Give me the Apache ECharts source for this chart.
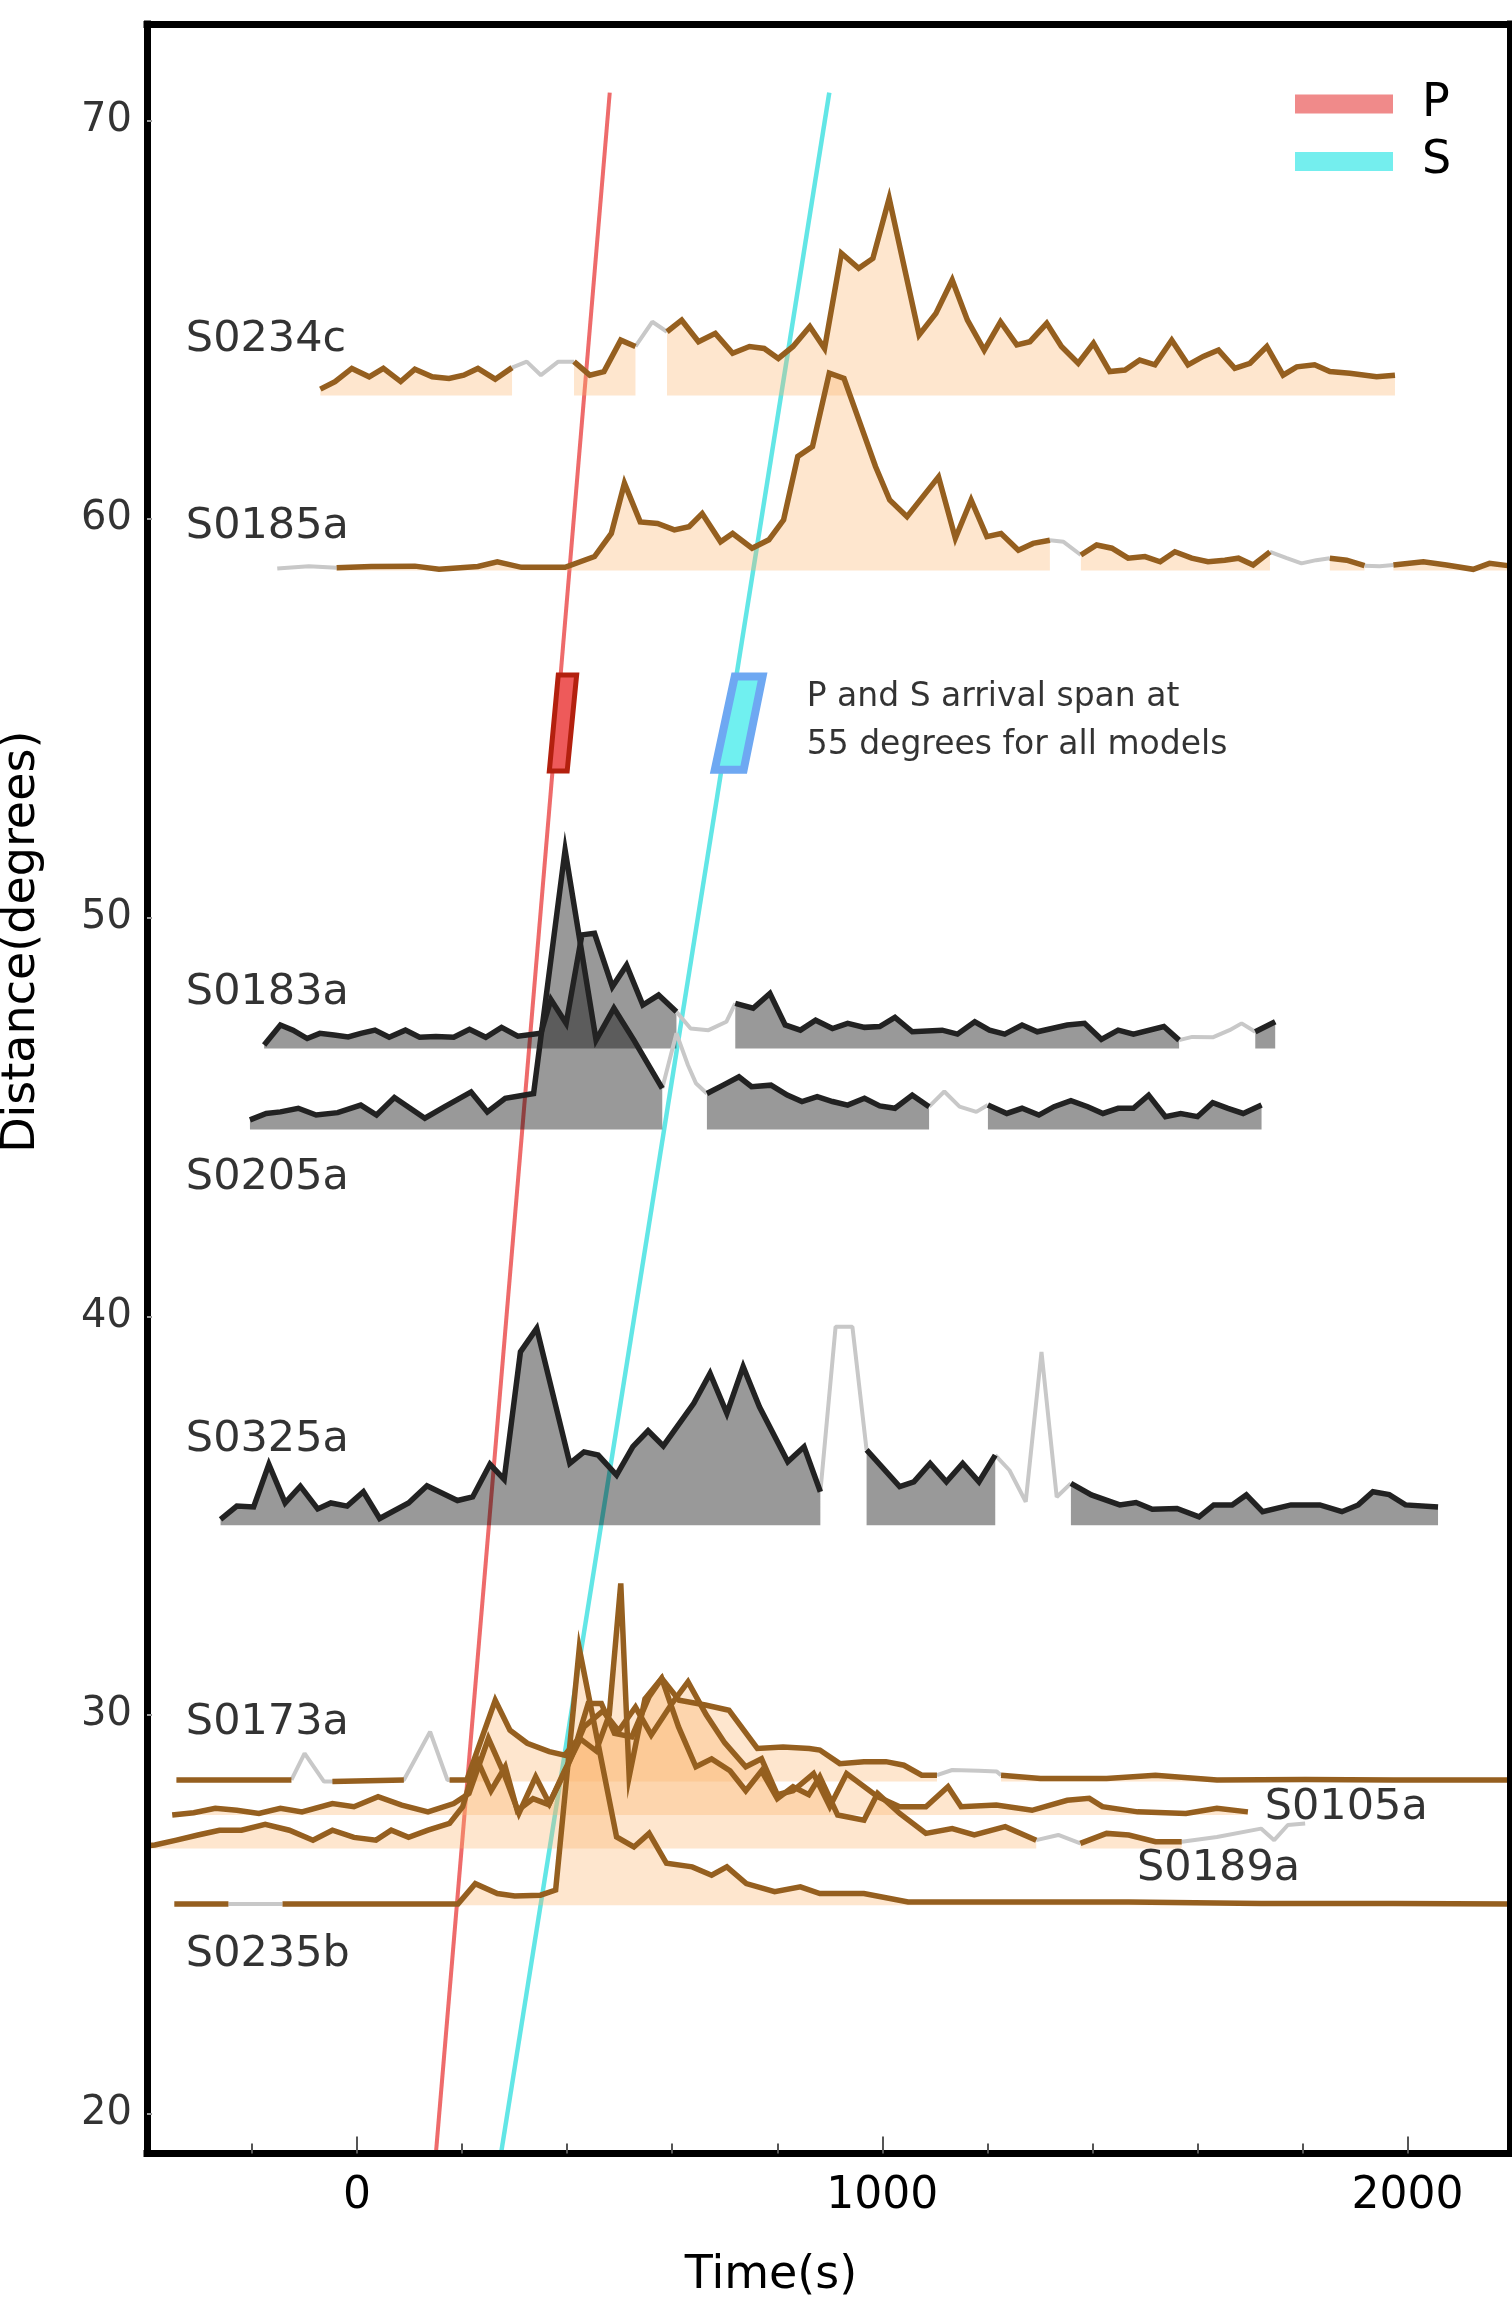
<!DOCTYPE html>
<html><head><meta charset="utf-8">
<script src="https://cdn.jsdelivr.net/npm/echarts@6/dist/echarts.min.js"></script>
<style>html,body{margin:0;padding:0;background:#fff}#c{width:1512px;height:2299px}</style>
</head><body><div id="c"></div>
<script>
// ---------------- axis ticks ----------------
const xMajorTicks = [0, 1000, 2000];
const xMinorTicks = [-200, 200, 400, 600, 800, 1200, 1400, 1600, 1800];
const yTicks = [20, 30, 40, 50, 60, 70];

// ---------------- travel-time lines ----------------
const pLineT = [150, 481], pLineD = [19, 70.7];
const sLineT = [274, 899], sLineD = [19, 70.7];
// arrival span boxes at 55 degrees (corners: time, distance)
const pBoxT = [383, 418, 400, 366], pBoxD = [56.09, 56.09, 53.68, 53.68];
const sBoxT = [719, 772, 736, 681], sBoxD = [56.05, 56.05, 53.71, 53.71];

// ---------------- traces (time s, distance deg, glitch flag) ----------------
const s0234cBase = 63.1;
const s0234cT = [-70,-42,-10,23,50,83,110,143,175,203,230,263,295,323,350,383,413,443,470,502,530,562,590,618,650,682,715,747,775,802,830,862,890,922,955,982,1013,1070,1102,1133,1162,1194,1225,1256,1281,1313,1341,1373,1402,1433,1462,1490,1519,1551,1582,1611,1640,1671,1700,1732,1763,1789,1823,1852,1890,1941,1976];
const s0234cD = [63.26,63.45,63.78,63.57,63.78,63.45,63.76,63.57,63.53,63.61,63.78,63.51,63.80,63.95,63.61,63.95,63.95,63.61,63.70,64.49,64.33,64.95,64.70,64.99,64.45,64.66,64.16,64.33,64.28,64.03,64.33,64.83,64.28,66.67,66.29,66.54,68.05,64.62,65.16,66.00,64.99,64.24,64.95,64.37,64.45,64.91,64.33,63.91,64.41,63.70,63.74,63.99,63.87,64.49,63.87,64.08,64.24,63.78,63.91,64.33,63.61,63.82,63.87,63.70,63.66,63.57,63.61];
const s0234cG = [0,0,0,0,0,0,0,0,0,0,0,0,0,1,1,1,0,0,0,0,0,1,0,0,0,0,0,0,0,0,0,0,0,0,0,0,0,0,0,0,0,0,0,0,0,0,0,0,0,0,0,0,0,0,0,0,0,0,0,0,0,0,0,0,0,0,0];

const s0185aBase = 58.71;
const s0185aT = [-152,-92,-39,27,110,156,230,267,313,360,396,452,484,509,539,572,604,632,657,692,715,752,784,812,839,867,899,927,987,1014,1047,1107,1139,1169,1199,1226,1259,1287,1319,1345,1378,1408,1437,1468,1500,1529,1557,1589,1620,1652,1678,1706,1738,1770,1798,1826,1852,1884,1918,1947,1973,2030,2074,2125,2156,2198];
const s0185aD = [58.76,58.82,58.78,58.81,58.82,58.74,58.81,58.93,58.79,58.79,58.79,59.06,59.64,60.90,59.93,59.89,59.73,59.81,60.14,59.43,59.64,59.27,59.48,59.98,61.57,61.82,63.66,63.53,61.32,60.48,60.06,61.06,59.52,60.48,59.56,59.64,59.22,59.39,59.47,59.43,59.10,59.35,59.27,59.02,59.06,58.93,59.18,59.02,58.93,58.97,59.02,58.85,59.18,59.02,58.89,58.97,59.02,58.97,58.83,58.82,58.85,58.93,58.85,58.74,58.89,58.82];
const s0185aG = [1,1,0,0,0,0,0,0,0,0,0,0,0,0,0,0,0,0,0,0,0,0,0,0,0,0,0,0,0,0,0,0,0,0,0,0,0,0,0,1,0,0,0,0,0,0,0,0,0,0,0,0,0,1,1,1,0,0,0,1,0,0,0,0,0,0];

const s0183aBase = 46.72;
const s0183aT = [-177,-146,-122,-95,-71,-44,-17,7,34,61,92,119,150,184,214,245,275,306,350,369,398,428,452,486,513,544,574,608,635,669,703,720,754,786,815,844,873,905,934,966,995,1024,1057,1114,1143,1176,1204,1233,1266,1295,1352,1385,1417,1449,1478,1536,1565,1590,1629,1661,1684,1710,1748];
const s0183aD = [46.81,47.31,47.18,46.97,47.10,47.06,47.01,47.10,47.18,47.00,47.18,47.00,47.02,47.00,47.20,47.00,47.25,47.03,47.10,47.95,47.35,49.57,49.61,48.27,48.81,47.81,48.06,47.64,47.22,47.18,47.39,47.85,47.73,48.10,47.31,47.18,47.43,47.22,47.35,47.25,47.27,47.50,47.14,47.18,47.08,47.39,47.18,47.08,47.31,47.14,47.31,47.35,46.95,47.18,47.08,47.27,46.93,47.01,47.00,47.18,47.35,47.14,47.39];
const s0183aG = [0,0,0,0,0,0,0,0,0,0,0,0,0,0,0,0,0,0,0,0,0,0,0,0,0,0,0,0,1,1,1,0,0,0,0,0,0,0,0,0,0,0,0,0,0,0,0,0,0,0,0,0,0,0,0,0,0,1,1,1,1,0,0];

const s0205aBase = 44.69;
const s0205aT = [-204,-173,-146,-112,-78,-37,7,37,71,129,167,217,248,282,336,396,455,489,527,581,608,630,645,666,697,727,751,788,819,847,876,905,934,966,995,1024,1057,1089,1118,1147,1179,1201,1237,1266,1298,1327,1359,1391,1420,1449,1478,1507,1539,1568,1600,1629,1658,1687,1722];
const s0205aD = [44.93,45.09,45.13,45.22,45.05,45.11,45.30,45.05,45.49,44.97,45.26,45.63,45.13,45.47,45.59,51.70,46.93,47.73,46.93,45.72,47.10,46.30,45.85,45.59,45.80,46.01,45.76,45.80,45.55,45.39,45.51,45.39,45.30,45.47,45.28,45.22,45.55,45.26,45.64,45.26,45.13,45.30,45.09,45.22,45.05,45.26,45.41,45.26,45.09,45.22,45.22,45.55,45.01,45.09,45.01,45.36,45.22,45.09,45.30];
const s0205aG = [0,0,0,0,0,0,0,0,0,0,0,0,0,0,0,0,0,0,0,0,1,1,1,0,0,0,0,0,0,0,0,0,0,0,0,0,0,0,1,1,1,0,0,0,0,0,0,0,0,0,0,0,0,0,0,0,0,0,0];

const s0325aBase = 34.76;
const s0325aT = [-260,-229,-197,-168,-137,-108,-75,-50,-19,12,43,98,133,191,220,253,280,311,342,405,432,459,494,525,554,583,641,672,704,735,766,820,851,882,911,943,970,1033,1060,1091,1122,1153,1184,1215,1242,1273,1303,1332,1359,1398,1452,1483,1514,1561,1603,1631,1666,1693,1724,1778,1833,1875,1906,1934,1965,1996,2058];
const s0325aD = [34.91,35.24,35.22,36.29,35.32,35.74,35.17,35.32,35.24,35.60,34.93,35.32,35.75,35.38,35.47,36.29,35.91,39.11,39.70,36.31,36.60,36.52,36.02,36.73,37.13,36.75,37.82,38.57,37.57,38.74,37.73,36.35,36.73,35.60,39.74,39.74,36.65,35.73,35.85,36.31,35.85,36.31,35.85,36.52,36.14,35.35,39.11,35.47,35.81,35.52,35.27,35.33,35.16,35.18,34.97,35.27,35.27,35.52,35.10,35.27,35.27,35.10,35.27,35.60,35.53,35.27,35.22];
const s0325aG = [0,0,0,0,0,0,0,0,0,0,0,0,0,0,0,0,0,0,0,0,0,0,0,0,0,0,0,0,0,0,0,0,0,0,1,1,0,0,0,0,0,0,0,0,1,1,1,1,0,0,0,0,0,0,0,0,0,0,0,0,0,0,0,0,0,0,0];

const s0173aBase = 28.33;
const s0173aT = [-344,-125,-100,-63,-47,89,139,172,176,209,263,291,324,366,395,419,440,465,490,523,556,580,613,663,708,762,811,861,881,919,965,1007,1041,1075,1104,1133,1184,1218,1226,1301,1427,1520,1637,1805,1973,2198];
const s0173aD = [28.37,28.37,29.04,28.33,28.33,28.37,29.58,28.37,28.37,28.37,30.37,29.62,29.29,29.08,28.99,29.37,30.29,30.29,29.54,29.45,30.46,30.92,30.37,30.25,30.12,29.16,29.20,29.16,29.12,28.78,28.83,28.83,28.74,28.49,28.49,28.62,28.60,28.58,28.49,28.41,28.41,28.49,28.37,28.38,28.37,28.37];
const s0173aG = [0,0,1,1,0,0,1,1,0,0,0,0,0,0,0,0,0,0,0,0,0,0,0,0,0,0,0,0,0,0,0,0,0,0,0,1,1,1,0,0,0,0,0,0,0,0];

const s0105aBase = 27.49;
const s0105aT = [-352,-311,-270,-229,-187,-146,-105,-47,-6,40,85,135,184,213,250,279,308,340,366,400,432,468,498,530,560,600,630,665,700,740,770,800,830,869,900,932,991,1033,1083,1125,1150,1217,1285,1352,1394,1419,1486,1578,1637,1696];
const s0105aD = [27.49,27.55,27.66,27.61,27.53,27.66,27.57,27.78,27.70,27.95,27.74,27.57,27.78,28.03,29.41,28.55,27.53,28.45,27.78,28.70,29.70,30.10,29.60,30.20,29.50,30.30,30.83,30.00,29.30,28.70,28.90,28.00,28.10,28.53,27.70,28.53,27.95,27.70,27.70,28.20,27.70,27.74,27.61,27.86,27.91,27.70,27.57,27.53,27.66,27.57];
const s0105aG = [0,0,0,0,0,0,0,0,0,0,0,0,0,0,0,0,0,0,0,0,0,0,0,0,0,0,0,0,0,0,0,0,0,0,0,0,0,0,0,0,0,0,0,0,0,0,0,0,0,0];

const s0189aBase = 26.65;
const s0189aT = [-400,-385,-344,-303,-262,-220,-175,-129,-84,-47,-6,36,65,98,135,176,201,228,255,282,305,335,365,395,425,455,480,502,518,548,580,612,645,675,710,740,770,800,830,860,881,915,965,991,1033,1083,1133,1175,1234,1293,1335,1377,1427,1469,1520,1570,1637,1721,1746,1772,1805];
const s0189aD = [26.72,26.74,26.86,26.99,27.11,27.11,27.26,27.11,26.86,27.11,26.93,26.86,27.11,26.93,27.11,27.28,27.70,28.90,28.10,28.70,27.60,27.90,27.75,28.60,29.40,29.10,30.00,33.30,28.45,30.40,30.92,29.70,28.70,28.90,28.60,28.10,28.60,27.90,28.20,28.00,28.45,27.49,27.36,28.03,27.53,27.03,27.15,26.99,27.20,26.86,26.99,26.78,27.03,26.99,26.82,26.82,26.94,27.15,26.86,27.24,27.28];
const s0189aG = [0,0,0,0,0,0,0,0,0,0,0,0,0,0,0,0,0,0,0,0,0,0,0,0,0,0,0,0,0,0,0,0,0,0,0,0,0,0,0,0,0,0,0,0,0,0,0,0,0,0,1,0,0,0,0,0,1,1,1,1,1];

const s0235bBase = 25.23;
const s0235bT = [-348,-245,-195,-142,192,225,267,300,349,378,423,494,527,556,589,638,675,704,741,795,844,881,965,1049,1217,1469,1721,1973,2198];
const s0235bD = [25.26,25.26,25.26,25.26,25.26,25.77,25.52,25.46,25.48,25.61,31.67,26.94,26.69,27.03,26.28,26.19,25.98,26.19,25.77,25.57,25.69,25.52,25.52,25.31,25.31,25.31,25.27,25.27,25.26];
const s0235bG = [0,0,1,0,0,0,0,0,0,0,0,0,0,0,0,0,0,0,0,0,0,0,0,0,0,0,0,0,0];

// ---------------- station labels ----------------
const labelText = ['S0234c','S0185a','S0183a','S0205a','S0325a','S0173a','S0235b','S0105a','S0189a'];
const labelT = [-327,-327,-327,-327,-327,-327,-327,1727,1484];
const labelD = [64.49,59.81,48.11,43.48,36.90,29.80,23.98,27.68,26.15];
const noteText = 'P and S arrival span at\n55 degrees for all models';
const noteT = 855, noteD = 54.92;

// ---------------- build chart ----------------
const BROWN = '#955F1F', BLACK = '#222222', GLITCH = '#C8C8C8';
const PEACH = 'rgba(251,180,105,0.33)', GREYFILL = 'rgba(0,0,0,0.4)';
const traces = [
  {t:s0234cT, d:s0234cD, g:s0234cG, base:s0234cBase, line:BROWN, fill:PEACH},
  {t:s0185aT, d:s0185aD, g:s0185aG, base:s0185aBase, line:BROWN, fill:PEACH},
  {t:s0183aT, d:s0183aD, g:s0183aG, base:s0183aBase, line:BLACK, fill:GREYFILL},
  {t:s0205aT, d:s0205aD, g:s0205aG, base:s0205aBase, line:BLACK, fill:GREYFILL},
  {t:s0325aT, d:s0325aD, g:s0325aG, base:s0325aBase, line:BLACK, fill:GREYFILL},
  {t:s0173aT, d:s0173aD, g:s0173aG, base:s0173aBase, line:BROWN, fill:PEACH},
  {t:s0105aT, d:s0105aD, g:s0105aG, base:s0105aBase, line:BROWN, fill:PEACH},
  {t:s0189aT, d:s0189aD, g:s0189aG, base:s0189aBase, line:BROWN, fill:PEACH},
  {t:s0235bT, d:s0235bD, g:s0235bG, base:s0235bBase, line:BROWN, fill:PEACH}
];

const series = [];
series.push({name:'P', type:'line', data:pLineT.map((t,i)=>[t,pLineD[i]]), symbol:'none',
  lineStyle:{color:'#EE6B6B', width:4}, z:1, silent:true});
series.push({name:'S', type:'line', data:sLineT.map((t,i)=>[t,sLineD[i]]), symbol:'none',
  lineStyle:{color:'#62E6E6', width:4.5}, z:1, silent:true});

traces.forEach(tr => {
  const n = tr.t.length;
  const good = tr.t.map((t,i)=> tr.g[i] ? [t, null] : [t, tr.d[i]]);
  const bad = tr.t.map((t,i)=> (tr.g[i] || (i>0 && tr.g[i-1]) || (i<n-1 && tr.g[i+1])) ? [t, tr.d[i]] : [t, null]);
  series.push({type:'line', data:good, symbol:'none', connectNulls:false, silent:true,
    lineStyle:{width:0, opacity:0}, areaStyle:{origin:tr.base, color:tr.fill, opacity:1}, z:3});
  series.push({type:'line', data:bad, symbol:'none', connectNulls:false, silent:true,
    lineStyle:{color:GLITCH, width:4}, z:4});
  series.push({type:'line', data:good, symbol:'none', connectNulls:false, silent:true,
    lineStyle:{color:tr.line, width:5.5, join:'miter'}, z:5});
});

function boxSeries(T, D, fill, stroke, lw) {
  return {type:'custom', silent:true, z:6, clip:false,
    data:[[T[0], D[0]]],
    renderItem:(params, api) => {
      const pts = T.map((t,i)=>api.coord([t, D[i]]));
      return {type:'polygon', shape:{points:pts}, style:{fill:fill, stroke:stroke, lineWidth:lw, lineJoin:'miter'}};
    }};
}
series.push(boxSeries(pBoxT, pBoxD, '#EE5A5A', '#B3200E', 5));
series.push(boxSeries(sBoxT, sBoxD, '#70F0F0', '#6EA8F2', 8));

series.push({type:'scatter', silent:true, z:7, symbolSize:1, itemStyle:{color:'rgba(0,0,0,0)'},
  data:labelT.map((t,i)=>[t, labelD[i], labelText[i]]),
  label:{show:true, position:'right', distance:0, formatter:p=>p.data[2],
    fontSize:43, color:'#000', fontFamily:'DejaVu Sans'}});
series.push({type:'scatter', silent:true, z:7, symbolSize:1, itemStyle:{color:'rgba(0,0,0,0)'},
  data:[[noteT, noteD, noteText]],
  label:{show:true, position:'right', distance:0, formatter:p=>p.data[2],
    fontSize:33, lineHeight:48, color:'#000', fontFamily:'DejaVu Sans', align:'left'}});

const XMIN = -400, XMAX = 2195, YMIN = 19, YMAX = 72.42;
const frame = {show:true, onZero:false, lineStyle:{color:'#000', width:7, cap:'square'}};
const option = {
  animation:false,
  backgroundColor:'#fff',
  textStyle:{fontFamily:'DejaVu Sans'},
  grid:{left:147, right:2, top:24, bottom:145.5, containLabel:false, outerBoundsMode:'none'},
  legend:{
    orient:'vertical', left:1290, top:76, itemWidth:98, itemHeight:19, itemGap:11.5,
    selectedMode:false,
    textStyle:{fontSize:46, color:'#000', lineHeight:46, padding:[0,0,0,24]},
    data:[{name:'P', icon:'rect', itemStyle:{color:'#F08A8A'}},
          {name:'S', icon:'rect', itemStyle:{color:'#74EEEE'}}]
  },
  xAxis:[
    {type:'value', min:XMIN, max:XMAX, position:'bottom', z:10,
     axisLine:frame, splitLine:{show:false},
     axisTick:{show:true, inside:true, length:17, customValues:xMajorTicks, lineStyle:{color:'#555', width:2}},
     axisLabel:{show:true, customValues:xMajorTicks, fontSize:44, color:'#000', margin:21, formatter:v=>String(v)},
     name:'Time(s)', nameLocation:'middle', nameGap:100,
     nameTextStyle:{fontSize:46, color:'#000', padding:[0,115,0,0]}},
    {type:'value', min:XMIN, max:XMAX, position:'bottom', z:10,
     axisLine:{show:false, onZero:false}, splitLine:{show:false}, axisLabel:{show:false},
     axisTick:{show:true, inside:true, length:10, customValues:xMinorTicks, lineStyle:{color:'#555', width:2}}},
    {type:'value', min:XMIN, max:XMAX, position:'top', z:10,
     axisLine:frame, splitLine:{show:false}, axisLabel:{show:false}, axisTick:{show:false}}
  ],
  yAxis:[
    {type:'value', min:YMIN, max:YMAX, position:'left', z:10,
     axisLine:frame, splitLine:{show:false},
     axisTick:{show:true, inside:true, length:5, customValues:yTicks, lineStyle:{color:'#999', width:2}},
     axisLabel:{show:true, customValues:yTicks, fontSize:40, color:'#333', margin:15, formatter:v=>String(v)},
     name:'Distance(degrees)', nameLocation:'middle', nameGap:102,
     nameTextStyle:{fontSize:46, color:'#000', padding:[0,0,0,294]}},
    {type:'value', min:YMIN, max:YMAX, position:'right', z:10,
     axisLine:frame, splitLine:{show:false}, axisLabel:{show:false}, axisTick:{show:false}}
  ],
  series:series
};
const chart = echarts.init(document.getElementById('c'), null, {renderer:'canvas', width:1512, height:2299});
chart.setOption(option);
</script></body></html>
